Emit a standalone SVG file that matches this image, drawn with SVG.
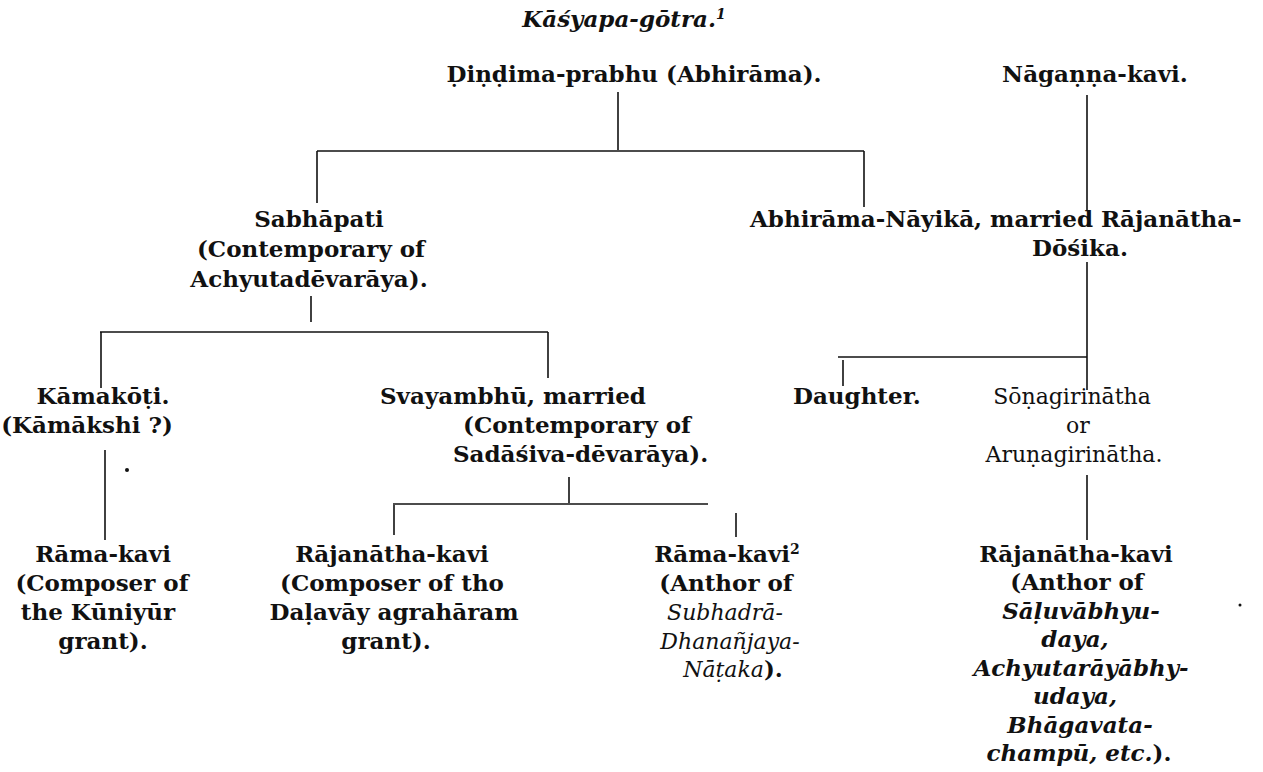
<svg xmlns="http://www.w3.org/2000/svg" width="1263" height="772" viewBox="0 0 1263 772">
<style>
text{font-family:"DejaVu Serif","Liberation Serif",serif;font-size:23px;fill:#111;font-weight:bold;}
.r{font-weight:normal;font-size:22px;}
.i{font-style:italic;}
.m{text-anchor:middle;}
.sup{font-size:14px;}
.ln{stroke:#111;stroke-width:1.6;fill:none;}
</style>
<rect width="1263" height="772" fill="#fff"/>
<g id="connectors">
<path class="ln" d="M618 92V150"/>
<path class="ln" d="M317 151H864"/>
<path class="ln" d="M317 151V203"/>
<path class="ln" d="M864 151V207"/>
<path class="ln" d="M1087 95V210"/>
<path class="ln" d="M311 296V322"/>
<path class="ln" d="M100 332H548"/>
<path class="ln" d="M101 332V388"/>
<path class="ln" d="M548 332V378"/>
<path class="ln" d="M1087 262V390"/>
<path class="ln" d="M838 357H1087"/>
<path class="ln" d="M843 360V386"/>
<path class="ln" d="M105 450V540"/>
<path class="ln" d="M569 477V503"/>
<path class="ln" d="M393 504H708"/>
<path class="ln" d="M394 505V535"/>
<path class="ln" d="M736 513V537"/>
<path class="ln" d="M1087 475V540"/>
</g>
<g id="title"><text class="i m" x="624" y="27">Kāśyapa-gōtra.<tspan class="sup" dy="-8">1</tspan></text></g>
<g id="dindima"><text class="m" x="634" y="82">Ḍiṇḍima-prabhu (Abhirāma).</text></g>
<g id="naganna"><text class="m" x="1095" y="82">Nāgaṇṇa-kavi.</text></g>
<g id="sabhapati">
<text class="m" x="319" y="227">Sabhāpati</text>
<text class="m" x="311" y="257">(Contemporary of</text>
<text class="m" x="309" y="287">Achyutadēvarāya).</text>
</g>
<g id="abhirama-nayika">
<text x="750" y="227">Abhirāma-Nāyikā, married Rājanātha-</text>
<text class="m" x="1080" y="256">Dōśika.</text>
</g>
<g id="kamakoti">
<text class="m" x="103" y="404">Kāmakōṭi.</text>
<text class="m" x="87" y="433">(Kāmākshi ?)</text>
<circle cx="127" cy="470" r="2" fill="#111"/>
</g>
<g id="svayambhu">
<text x="380" y="404">Svayambhū, married</text>
<text x="463" y="433">(Contemporary of</text>
<text x="453" y="462">Sadāśiva-dēvarāya).</text>
</g>
<g id="daughter"><text x="793" y="404">Daughter.</text></g>
<g id="sonagirinatha">
<text class="r m" x="1072" y="404">Sōṇagirinātha</text>
<text class="r m" x="1078" y="433">or</text>
<text class="r m" x="1074" y="462">Aruṇagirinātha.</text>
</g>
<g id="rama-kavi-1">
<text class="m" x="103" y="562">Rāma-kavi</text>
<text class="m" x="102" y="591">(Composer of</text>
<text class="m" x="98" y="620">the Kūniyūr</text>
<text class="m" x="103" y="649">grant).</text>
</g>
<g id="rajanatha-kavi-1">
<text class="m" x="392" y="562">Rājanātha-kavi</text>
<text class="m" x="392" y="591">(Composer of tho</text>
<text class="m" x="394" y="620">Daḷavāy agrahāram</text>
<text class="m" x="386" y="649">grant).</text>
</g>
<g id="rama-kavi-2">
<text class="m" x="727" y="562">Rāma-kavi<tspan class="sup" dy="-8">2</tspan></text>
<text class="m" x="726" y="591">(Anthor of</text>
<text class="r i m" x="725" y="620">Subhadrā-</text>
<text class="r i m" x="730" y="649">Dhanañjaya-</text>
<text class="m" x="733" y="677"><tspan class="r i">Nāṭaka</tspan>).</text>
</g>
<g id="rajanatha-kavi-2">
<text class="m" x="1076" y="562">Rājanātha-kavi</text>
<text class="m" x="1077" y="590">(Anthor of</text>
<text class="i m" x="1081" y="619">Sāḷuvābhyu-</text>
<text class="i m" x="1075" y="647">daya,</text>
<text class="i m" x="1081" y="676">Achyutarāyābhy-</text>
<text class="i m" x="1075" y="704">udaya,</text>
<text class="i m" x="1080" y="733">Bhāgavata-</text>
<text class="m" x="1079" y="761"><tspan class="i">champū, etc.</tspan>).</text>
</g>
<circle cx="1240" cy="605" r="1.5" fill="#111"/>
</svg>
